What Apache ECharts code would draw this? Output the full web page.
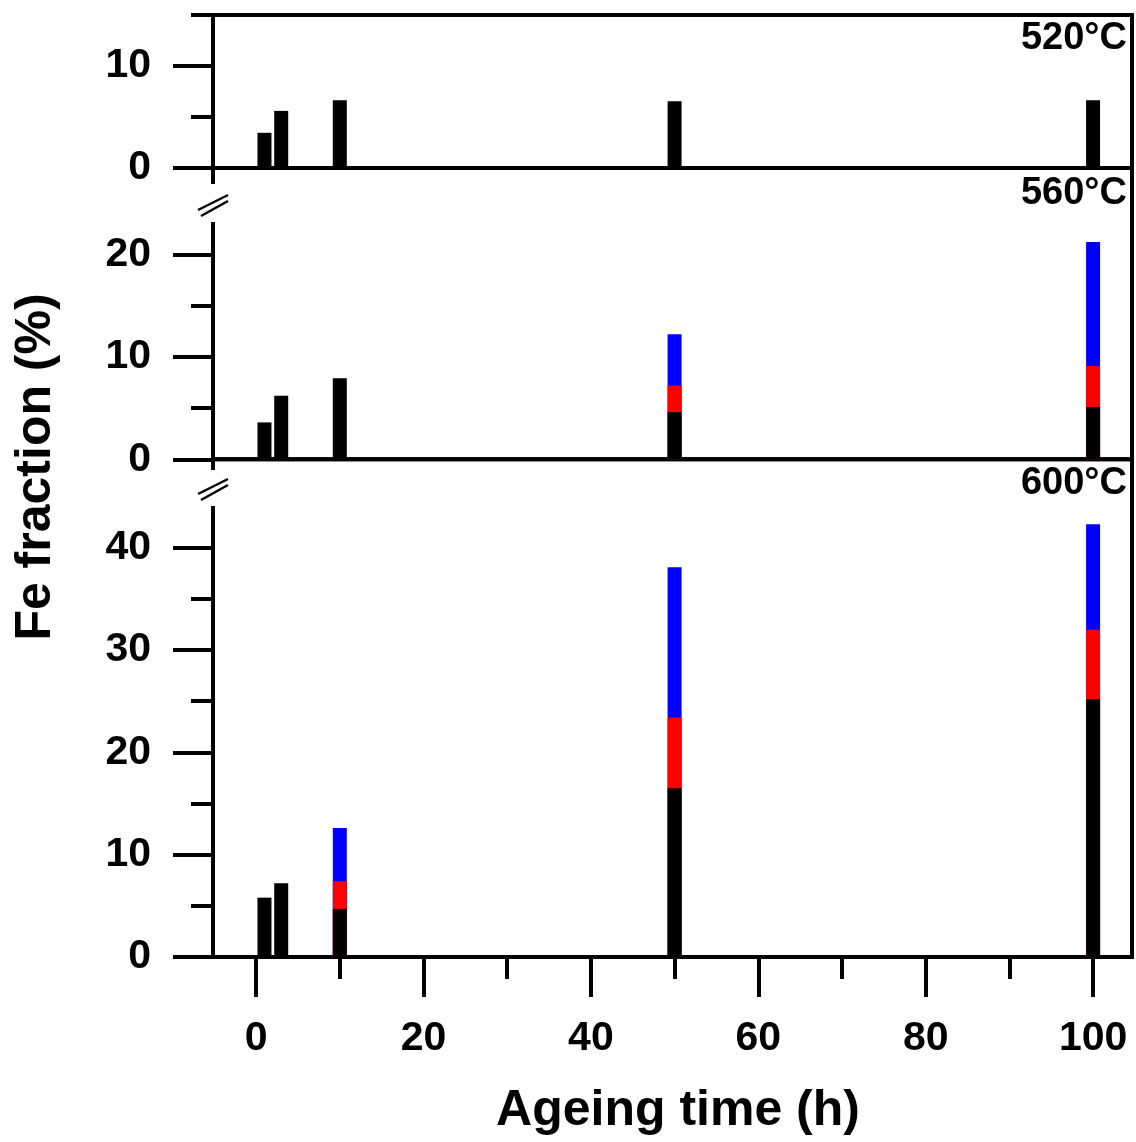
<!DOCTYPE html>
<html>
<head>
<meta charset="utf-8">
<script src="https://cdn.jsdelivr.net/npm/echarts@6/dist/echarts.min.js"></script>
<style>
html,body{margin:0;padding:0;background:#fff;}
#chart{width:1136px;height:1142px;}
</style>
</head>
<body>
<div id="chart"></div>
<script>
// ---- data (segment heights, bottom to top: black, red, blue) ----
const times = [1, 3, 10, 50, 100];
const fe520Black = [3.45, 5.6, 6.65, 6.55, 6.65];
const fe560Black = [3.6, 6.2, 7.9, 4.6, 5.1];
const fe560Red   = [0, 0, 0, 2.6, 4.0];
const fe560Blue  = [0, 0, 0, 5.0, 12.1];
const fe600Black = [5.8, 7.2, 4.7, 16.5, 25.2];
const fe600Red   = [0, 0, 2.7, 6.9, 6.8];
const fe600Blue  = [0, 0, 5.2, 14.7, 10.3];

const panelLabels = ['520°C', '560°C', '600°C'];
const xMajorTicks = [0, 20, 40, 60, 80, 100];
const xMinorTicks = [10, 30, 50, 70, 90];
const y520Major = [0, 10];
const y520Minor = [5, 15];
const y560Major = [0, 10, 20];
const y560Minor = [5, 15];
const y600Major = [0, 10, 20, 30, 40];
const y600Minor = [5, 15, 25, 35];
const xTitle = 'Ageing time (h)';
const yTitle = 'Fe fraction (%)';

// ---- chart ----
const FONT = '"Liberation Sans", Arial, sans-serif';

// build stacked tops (cumulative) for overlapping bars; empty segments -> null
function stackTops(segments) {
  const tops = [];
  let acc = times.map(() => 0);
  segments.forEach(seg => {
    acc = acc.map((a, i) => a + seg[i]);
    tops.push(times.map((t, i) => [t, seg[i] > 0 ? acc[i] : null]));
  });
  return tops;
}

const grids = [
  {left: 213, right: 4, top: 15, height: 153},
  {left: 213, right: 4, top: 168, height: 291.3},
  {left: 213, right: 4, top: 459.3, height: 497.7}
].map(g => Object.assign(g, {show: true, borderColor: '#000', borderWidth: 4, backgroundColor: 'transparent'}));

const X_MIN = -5.15, X_MAX = 104.65;
const yMax = [15, 28.42, 48.65];
const yMajor = [y520Major, y560Major, y600Major];
const yMinor = [y520Minor, y560Minor, y600Minor];

const yAxes = [];
for (let g = 0; g < 3; g++) {
  yAxes.push({
    type: 'value', gridIndex: g, min: 0, max: yMax[g], position: 'left',
    axisLine: {show: false, onZero: false}, splitLine: {show: false},
    axisTick: {show: true, length: 40, customValues: yMajor[g], lineStyle: {color: '#000', width: 4}},
    axisLabel: {show: true, customValues: yMajor[g], margin: 62, color: '#000', fontSize: 41, fontWeight: 'bold', fontFamily: FONT}
  });
  yAxes.push({
    type: 'value', gridIndex: g, min: 0, max: yMax[g], position: 'left',
    axisLine: {show: false, onZero: false}, splitLine: {show: false}, axisLabel: {show: false},
    axisTick: {show: true, length: 22, customValues: yMinor[g], lineStyle: {color: '#000', width: 4}}
  });
}

const xAxes = [
  {type: 'value', gridIndex: 0, min: X_MIN, max: X_MAX, show: false, axisLine: {onZero: false}},
  {type: 'value', gridIndex: 1, min: X_MIN, max: X_MAX, show: false, axisLine: {onZero: false}},
  {type: 'value', gridIndex: 2, min: X_MIN, max: X_MAX, position: 'bottom',
   axisLine: {show: false, onZero: false}, splitLine: {show: false},
   axisTick: {show: true, length: 40, customValues: xMajorTicks, lineStyle: {color: '#000', width: 4}},
   axisLabel: {show: true, customValues: xMajorTicks, margin: 61, color: '#000', fontSize: 41, fontWeight: 'bold', fontFamily: FONT}},
  {type: 'value', gridIndex: 2, min: X_MIN, max: X_MAX, position: 'bottom',
   axisLine: {show: false, onZero: false}, splitLine: {show: false}, axisLabel: {show: false},
   axisTick: {show: true, length: 22, customValues: xMinorTicks, lineStyle: {color: '#000', width: 4}}}
];

function bar(name, data, xi, yi, color) {
  return {
    name, type: 'bar', xAxisIndex: xi, yAxisIndex: yi, data,
    barWidth: 14, barGap: '-100%', itemStyle: {color}, silent: true, animation: false
  };
}

const [t560k, t560r, t560b] = stackTops([fe560Black, fe560Red, fe560Blue]);
const [t600k, t600r, t600b] = stackTops([fe600Black, fe600Red, fe600Blue]);
const [t520k] = stackTops([fe520Black]);

// draw order: blue (total) first, then red, then black on top
const series = [
  bar('520 black', t520k, 0, 0, '#000000'),
  bar('560 blue', t560b, 1, 2, '#0000ff'),
  bar('560 red', t560r, 1, 2, '#ff0000'),
  bar('560 black', t560k, 1, 2, '#000000'),
  bar('600 blue', t600b, 2, 4, '#0000ff'),
  bar('600 red', t600r, 2, 4, '#ff0000'),
  bar('600 black', t600k, 2, 4, '#000000')
];

const txt = (text, x, y, size) => ({
  type: 'text', x, y, z: 100,
  style: {text, fill: '#000', font: 'bold ' + size + 'px ' + FONT, align: 'right', verticalAlign: 'middle'}
});

const graphic = [
  // axis breaks
  {type: 'rect', shape: {x: 208, y: 184, width: 10, height: 38}, style: {fill: '#fff'}, z: 90},
  {type: 'rect', shape: {x: 208, y: 470, width: 10, height: 36}, style: {fill: '#fff'}, z: 90},
  {type: 'line', shape: {x1: 198, y1: 210, x2: 228, y2: 195}, style: {stroke: '#000', lineWidth: 2.5}, z: 95},
  {type: 'line', shape: {x1: 201, y1: 216, x2: 228, y2: 201}, style: {stroke: '#000', lineWidth: 2.5}, z: 95},
  {type: 'line', shape: {x1: 198, y1: 494, x2: 228, y2: 479}, style: {stroke: '#000', lineWidth: 2.5}, z: 95},
  {type: 'line', shape: {x1: 201, y1: 500, x2: 228, y2: 485}, style: {stroke: '#000', lineWidth: 2.5}, z: 95},
  // panel labels
  txt(panelLabels[0], 1127, 38.5, 38),
  txt(panelLabels[1], 1127, 194, 38),
  txt(panelLabels[2], 1127, 484, 38),
  // axis titles
  {type: 'text', x: 678, y: 1111, z: 100,
   style: {text: xTitle, fill: '#000', font: 'bold 50px ' + FONT, align: 'center', verticalAlign: 'middle'}},
  {type: 'text', x: 36, y: 467, rotation: Math.PI / 2, z: 100,
   style: {text: yTitle, fill: '#000', font: 'bold 50px ' + FONT, align: 'center', verticalAlign: 'middle'}}
];

const chart = echarts.init(document.getElementById('chart'), null, {renderer: 'canvas'});
chart.setOption({
  animation: false,
  backgroundColor: '#fff',
  grid: grids,
  xAxis: xAxes,
  yAxis: yAxes,
  series,
  graphic
});
</script>
</body>
</html>
